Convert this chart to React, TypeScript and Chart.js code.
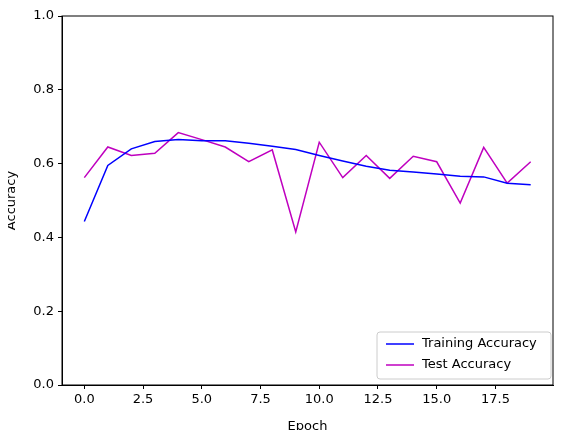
import { Chart, registerables, type Plugin } from "chart.js";
import { useEffect, useRef } from "react";

Chart.register(...registerables);

const epochs = Array.from({ length: 20 }, (_, i) => i);
const trainAcc = [0.443, 0.595, 0.64, 0.66, 0.665, 0.662, 0.662, 0.655, 0.647, 0.638, 0.622, 0.607, 0.593, 0.582, 0.577, 0.572, 0.566, 0.564, 0.547, 0.543];
const testAcc = [0.562, 0.645, 0.622, 0.628, 0.684, 0.665, 0.645, 0.605, 0.637, 0.415, 0.658, 0.562, 0.622, 0.56, 0.62, 0.605, 0.493, 0.644, 0.547, 0.605];
const seriesNames = ["Training Accuracy", "Test Accuracy"];
const seriesColors = ["#0000ff", "#bf00bf"];

const FONT = "DejaVu Sans";

const framePlugin: Plugin = {
  id: "frame",
  afterDraw(chart) {
    const { ctx, chartArea: a } = chart;
    ctx.save();
    ctx.strokeStyle = "#000";
    ctx.lineWidth = 1;
    ctx.strokeRect(a.left, a.top, a.right - a.left, a.bottom - a.top);

    // legend in lower right
    const w = 174;
    const h = 47;
    const x = a.right - w - 2;
    const y = a.bottom - h - 6;
    ctx.fillStyle = "rgba(255,255,255,0.8)";
    ctx.strokeStyle = "#cccccc";
    ctx.beginPath();
    ctx.roundRect(x, y, w, h, 3);
    ctx.fill();
    ctx.stroke();
    ctx.font = `13px ${FONT}`;
    ctx.textBaseline = "middle";
    seriesNames.forEach((name, i) => {
      const ly = y + 12 + i * 21;
      ctx.strokeStyle = seriesColors[i];
      ctx.lineWidth = 1.5;
      ctx.beginPath();
      ctx.moveTo(x + 9, ly);
      ctx.lineTo(x + 37, ly);
      ctx.stroke();
      ctx.fillStyle = "#000";
      ctx.fillText(name, x + 45, ly);
    });
    ctx.restore();
  },
};

export default function App() {
  const canvasRef = useRef<HTMLCanvasElement>(null);

  useEffect(() => {
    if (!canvasRef.current) {
      return;
    }
    const tickStyle = { color: "#000", font: { family: FONT, size: 13 } };
    const gridStyle = { drawOnChartArea: false, drawTicks: true, tickLength: 4, color: "#000" };
    const chart = new Chart(canvasRef.current, {
      type: "line",
      data: {
        datasets: [trainAcc, testAcc].map((vals, i) => ({
          label: seriesNames[i],
          data: vals.map((v, j) => ({ x: epochs[j], y: v })),
          borderColor: seriesColors[i],
          borderWidth: 1.5,
          pointRadius: 0,
          tension: 0,
        })),
      },
      options: {
        animation: false,
        responsive: false,
        layout: { padding: { top: 16, right: 14, left: 0, bottom: 0 } },
        plugins: { legend: { display: false }, tooltip: { enabled: false } },
        scales: {
          x: {
            type: "linear",
            min: -0.95,
            max: 19.95,
            afterBuildTicks(scale) {
              scale.ticks = [0, 2.5, 5, 7.5, 10, 12.5, 15, 17.5].map((v) => ({ value: v }));
            },
            afterFit(scale) {
              scale.height = 53;
            },
            grid: gridStyle,
            border: { color: "#000" },
            ticks: { ...tickStyle, maxRotation: 0, padding: 3, callback: (v) => Number(v).toFixed(1) },
            title: { display: true, text: "Epoch", color: "#000", font: { family: FONT, size: 13 }, padding: { top: 2 } },
          },
          y: {
            min: 0,
            max: 1,
            afterFit(scale) {
              scale.width = 62;
            },
            grid: gridStyle,
            border: { color: "#000" },
            ticks: { ...tickStyle, stepSize: 0.2, padding: 4, callback: (v) => Number(v).toFixed(1) },
            title: { display: true, text: "Accuracy", color: "#000", font: { family: FONT, size: 13 }, padding: { bottom: 4 } },
          },
        },
      },
      plugins: [framePlugin],
    });
    return () => {
      chart.destroy();
    };
  }, []);

  return (
    <div style={{ margin: -8, background: "#fff" }}>
      <canvas ref={canvasRef} width={567} height={438} style={{ display: "block" }} />
    </div>
  );
}
